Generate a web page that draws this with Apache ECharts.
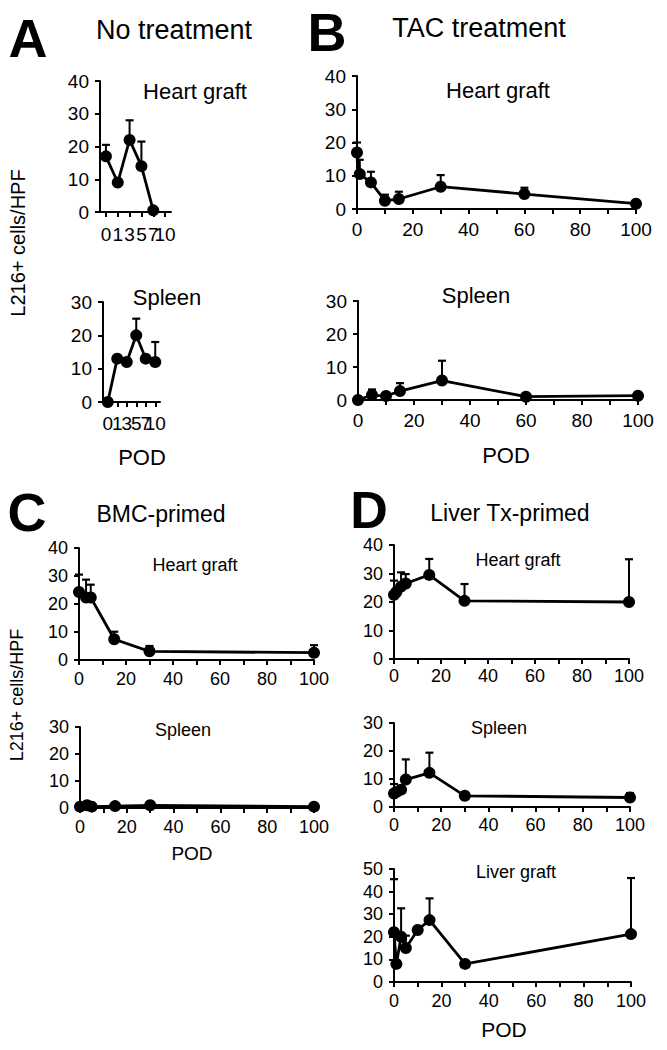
<!DOCTYPE html>
<html><head><meta charset="utf-8">
<script src="https://cdn.jsdelivr.net/npm/echarts@6/dist/echarts.min.js"></script>
<style>html,body{margin:0;padding:0;background:#fff}#c{width:667px;height:1050px}</style>
</head><body><div id="c"></div>
<script>
// ---- data ----
const aDays = ['0', '1', '3', '5', '7', '10'];
const aHeart = [17, 9, 22, 14, 0.5, null];
const aHeartErr = [3.5, 0, 6, 7.5, 0, 0];
const aSpleen = [0, 13, 12, 20, 13, 12];
const aSpleenErr = [0, 0, 0, 5, 0, 6];

const bHeartDays = [0, 1, 5, 10, 15, 30, 60, 100];
const bHeart = [17, 10.5, 8, 2.5, 3, 6.7, 4.5, 1.6];
const bHeartErr = [3, 4.3, 3.2, 1.8, 2.2, 3.5, 1.9, 0];
const bSpleenDays = [0, 5, 10, 15, 30, 60, 100];
const bSpleen = [0, 1.5, 1.2, 2.7, 5.9, 1, 1.3];
const bSpleenErr = [0, 1.7, 0.8, 2.4, 6, 0, 0];

const cDays = [0, 3, 5, 15, 30, 100];
const cHeart = [24.3, 22.3, 22.3, 7.4, 3.1, 2.6];
const cHeartErr = [6.2, 6.4, 4.6, 2.7, 1.9, 2.7];
const cSpleen = [0.5, 1, 0.5, 0.7, 1, 0.5];
const cSpleenErr = [0, 0, 0, 0, 0, 0];

const dDays = [0, 1, 3, 5, 15, 30, 100];
const dHeart = [22.5, 23.5, 25.4, 26.5, 29.5, 20.4, 20];
const dHeartErr = [5, 0, 5, 3.3, 5.6, 5.9, 15];
const dSpleen = [4.8, 5.4, 6.2, 9.8, 12.2, 4, 3.4];
const dSpleenErr = [3.4, 0, 0, 7.2, 7.2, 0, 1.6];
const dLiverDays = [0, 1, 3, 5, 10, 15, 30, 100];
const dLiver = [22, 8, 20, 15, 23, 27.4, 8, 21.2];
const dLiverErr = [23.5, 0, 12.6, 5.5, 0, 9.6, 0, 24.8];

// ---- chart ----
const FONT = '"Liberation Sans", Arial, Helvetica, sans-serif';
const chart = echarts.init(document.getElementById('c'), null, {renderer: 'svg'});

const grids = [], xAxes = [], yAxes = [], series = [];
const axLine = {show: true, lineStyle: {color: '#000', width: 2}};
const axTick = {show: true, length: 5, lineStyle: {color: '#000', width: 2}};

function panel(g, rect, ymax, days, vals, errs, isCat, fs, xm) {
  grids.push({left: rect[0], top: rect[1], width: rect[2], height: rect[3], containLabel: false});
  if (isCat) {
    xAxes.push({type: 'category', gridIndex: g, data: days, boundaryGap: true,
      axisLine: axLine, axisTick: Object.assign({alignWithLabel: true}, axTick),
      axisLabel: {interval: 0, color: '#000', fontSize: fs, fontFamily: FONT, margin: xm},
      splitLine: {show: false}});
  } else {
    xAxes.push({type: 'value', gridIndex: g, min: 0, max: 100, interval: 10,
      axisLine: axLine, axisTick: axTick,
      axisLabel: {color: '#000', fontSize: fs, fontFamily: FONT, margin: xm,
        formatter: v => (v % 20 === 0 ? String(v) : '')},
      splitLine: {show: false}});
  }
  yAxes.push({type: 'value', gridIndex: g, min: 0, max: ymax, interval: 10,
    axisLine: axLine, axisTick: axTick,
    axisLabel: {color: '#000', fontSize: fs, fontFamily: FONT, margin: 11},
    splitLine: {show: false}});
  const pts = vals.map((v, i) => [isCat ? i : days[i], v]).filter(p => p[1] !== null);
  const errData = vals.map((v, i) => [isCat ? i : days[i], v, errs[i]]).filter(p => p[1] !== null && p[2] > 0);
  series.push({type: 'custom', xAxisIndex: g, yAxisIndex: g, data: errData, z: 2,
    renderItem: (params, api) => {
      const x = api.value(0), y = api.value(1), e = api.value(2);
      const p0 = api.coord([x, y]), p1 = api.coord([x, y + e]);
      return {type: 'group', children: [
        {type: 'line', shape: {x1: p0[0], y1: p0[1], x2: p1[0], y2: p1[1]}, style: {stroke: '#000', lineWidth: 2}},
        {type: 'line', shape: {x1: p1[0] - 4, y1: p1[1], x2: p1[0] + 4, y2: p1[1]}, style: {stroke: '#000', lineWidth: 2.2}}
      ]};
    }});
  series.push({type: 'line', xAxisIndex: g, yAxisIndex: g, data: pts, z: 3,
    symbol: 'circle', symbolSize: 12, showSymbol: true,
    lineStyle: {color: '#000', width: 2.8}, itemStyle: {color: '#000'}});
}

panel(0, [100, 81, 71, 131], 40, aDays, aHeart, aHeartErr, true, 19, 13);
panel(1, [103, 302, 57, 100], 30, aDays, aSpleen, aSpleenErr, true, 19, 12);
panel(2, [357, 76, 279, 133], 40, bHeartDays, bHeart, bHeartErr, false, 19, 11);
panel(3, [358, 301, 280, 99], 30, bSpleenDays, bSpleen, bSpleenErr, false, 19, 11);
panel(4, [79, 548, 235, 112], 40, cDays, cHeart, cHeartErr, false, 18, 10);
panel(5, [80, 727, 234, 81], 30, cDays, cSpleen, cSpleenErr, false, 18, 10);
panel(6, [394, 545, 235, 114], 40, dDays, dHeart, dHeartErr, false, 18, 8);
panel(7, [394, 723, 236, 84], 30, dDays, dSpleen, dSpleenErr, false, 18, 9);
panel(8, [394, 869, 237, 113], 50, dLiverDays, dLiver, dLiverErr, false, 18, 10);

function txt(x, y, s, size, weight, rot) {
  return {type: 'text', x: x, y: y, rotation: rot || 0,
    style: {text: s, fill: '#000', font: (weight || 'normal') + ' ' + size + 'px ' + FONT,
      textAlign: 'center', textVerticalAlign: 'middle'}};
}

const graphics = [
  txt(28, 38, 'A', 54, 'bold'), txt(174, 30, 'No treatment', 27),
  txt(327, 32, 'B', 54, 'bold'), txt(479, 28, 'TAC treatment', 27),
  txt(27, 512, 'C', 54, 'bold'), txt(161, 514, 'BMC-primed', 23),
  txt(369, 510, 'D', 52, 'bold'), txt(510, 513, 'Liver Tx-primed', 23),
  txt(195, 91, 'Heart graft', 22), txt(167, 297, 'Spleen', 22),
  txt(498, 90, 'Heart graft', 22), txt(476, 295, 'Spleen', 22),
  txt(195, 565, 'Heart graft', 18), txt(183, 730, 'Spleen', 18),
  txt(518, 560, 'Heart graft', 18), txt(499, 728, 'Spleen', 18), txt(516, 872, 'Liver graft', 18),
  txt(142, 457, 'POD', 22), txt(506, 455, 'POD', 22), txt(192, 853, 'POD', 19), txt(504, 1029, 'POD', 21),
  txt(18, 243, 'L216+ cells/HPF', 20, 'normal', Math.PI / 2),
  txt(17, 695, 'L216+ cells/HPF', 18, 'normal', Math.PI / 2)
];

chart.setOption({
  animation: false,
  backgroundColor: '#fff',
  grid: grids, xAxis: xAxes, yAxis: yAxes, series: series,
  graphic: graphics
});
</script></body></html>
